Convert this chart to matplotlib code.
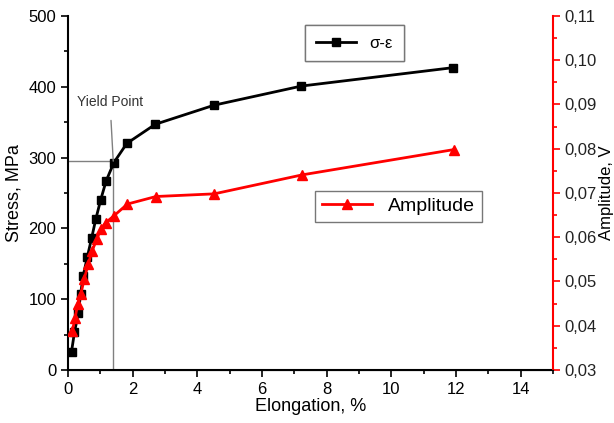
import matplotlib
matplotlib.use("Agg")
import matplotlib.pyplot as plt
from matplotlib.ticker import MultipleLocator, FuncFormatter

plt.rcParams['font.family'] = ['Liberation Sans', 'DejaVu Sans']

# stress-strain curve
elong_s = [0.11, 0.20, 0.32, 0.39, 0.47, 0.60, 0.73, 0.86, 1.01, 1.18, 1.42, 1.82, 2.70, 4.52, 7.22, 11.91]
stress = [26, 53, 80, 107, 133, 160, 186, 213, 240, 267, 293, 320, 347, 374, 401, 427]

# amplitude curve
elong_a = [0.13, 0.22, 0.30, 0.40, 0.50, 0.63, 0.75, 0.89, 1.01, 1.17, 1.43, 1.84, 2.72, 4.52, 7.25, 11.93]
amplitude = [0.0387, 0.0417, 0.0449, 0.0472, 0.0505, 0.0540, 0.0570, 0.0595, 0.0618,
             0.0633, 0.0649, 0.0675, 0.0692, 0.0698, 0.0741, 0.0798]

yield_x = 1.40
yield_y = 295

fig = plt.figure(figsize=(6.14, 4.23), dpi=100)
ax = fig.add_axes([0.1107, 0.1253, 0.79, 0.837])
ax2 = ax.twinx()

l1, = ax.plot(elong_s, stress, color='black', lw=2, marker='s', ms=6, label='σ-ε', zorder=3)
l2, = ax2.plot(elong_a, amplitude, color='red', lw=2, marker='^', ms=7, label='Amplitude', zorder=3)

# yield point guide lines
ax.plot([0, yield_x], [yield_y, yield_y], color='gray', lw=1, zorder=1)
ax.plot([yield_x, yield_x], [0, yield_y], color='gray', lw=1, zorder=1)
ax.annotate('Yield Point', xy=(yield_x, yield_y), xytext=(1.3, 378),
            ha='center', va='center', fontsize=10, color='#333333',
            arrowprops=dict(arrowstyle='-', color='gray', lw=1, shrinkA=6, shrinkB=0))

ax.set_ylim(0, 500)
ax2.set_ylim(0.03, 0.11)

ax.xaxis.set_minor_locator(MultipleLocator(1))
ax.yaxis.set_major_locator(MultipleLocator(100))
ax.yaxis.set_minor_locator(MultipleLocator(50))
ax2.yaxis.set_major_locator(MultipleLocator(0.01))
ax2.yaxis.set_minor_locator(MultipleLocator(0.005))
ax2.yaxis.set_major_formatter(FuncFormatter(lambda v, p: f'{v:.2f}'.replace('.', ',')))

ax.set_xticks(range(0, 15, 2))
ax.set_xlim(0, 15)

for a in (ax, ax2):
    a.spines['top'].set_visible(False)
ax.spines['right'].set_visible(False)
ax2.spines['left'].set_visible(False)
ax2.spines['right'].set_color('red')
ax2.spines['right'].set_linewidth(1.5)
ax.spines['left'].set_linewidth(1.5)
ax.spines['bottom'].set_linewidth(1.5)

ax.tick_params(which='major', length=5, width=1.2, labelsize=12)
ax.tick_params(which='minor', length=3, width=1.2)
ax2.tick_params(which='major', length=5, width=1.2, labelsize=12, colors='red', labelcolor='#222222')
ax2.tick_params(which='minor', length=3, width=1.2, colors='red')

ax.set_xlabel('Elongation, %', fontsize=13, labelpad=1)
ax.set_ylabel('Stress, MPa', fontsize=13, labelpad=4)
ax2.set_ylabel('Amplitude, V', fontsize=12, labelpad=1)

leg1 = ax.legend(handles=[l1], loc='upper left', bbox_to_anchor=(0.489, 0.975),
                 borderaxespad=0, fancybox=False, edgecolor='#777777', fontsize=12,
                 handlelength=2.4, borderpad=0.65, framealpha=1)
ax.add_artist(leg1)
leg2 = ax2.legend(handles=[l2], loc='upper left', bbox_to_anchor=(0.509, 0.506),
                  borderaxespad=0, fancybox=False, edgecolor='#777777', fontsize=14,
                  handlelength=2.6, borderpad=0.35, framealpha=1)

fig.savefig('out.png', dpi=100)
